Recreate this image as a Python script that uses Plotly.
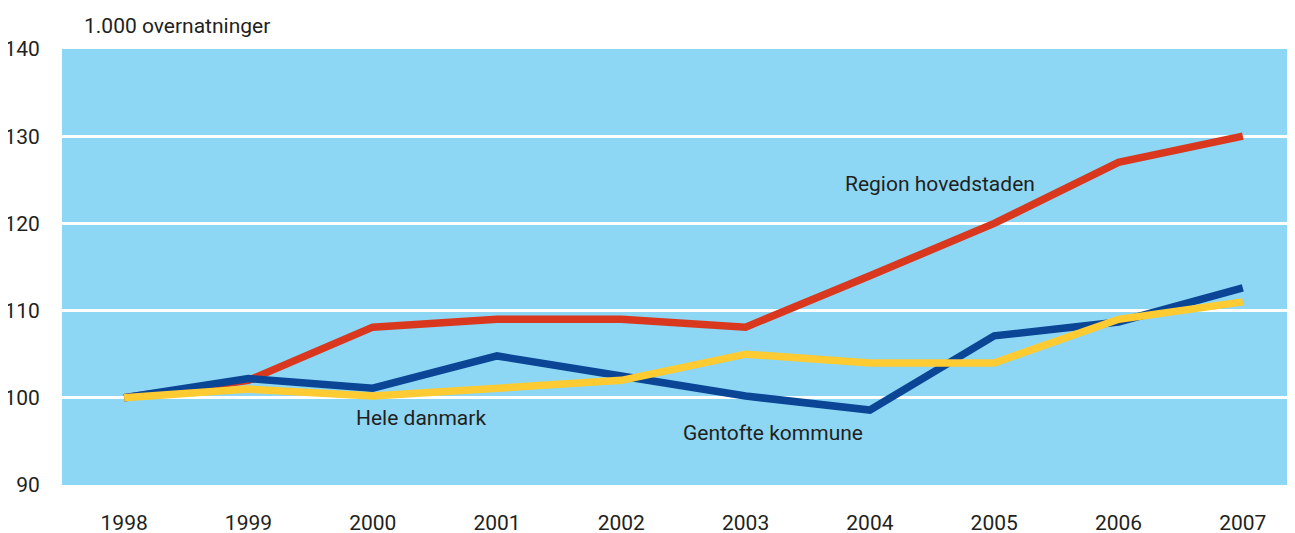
import plotly.graph_objects as go

years = [1998, 1999, 2000, 2001, 2002, 2003, 2004, 2005, 2006, 2007]
region_hovedstaden = [100, 102, 108.1, 109, 109, 108.1, 114, 120, 127, 130]
gentofte_kommune = [100, 102.2, 101.1, 104.8, 102.5, 100.2, 98.6, 107.1, 108.7, 112.6]
hele_danmark = [100, 101, 100.2, 101, 102, 105, 104, 104, 109, 111]

y_ticks = [90, 100, 110, 120, 130, 140]
y_title = "1.000 overnatninger"

FONT = "Roboto, Liberation Sans, sans-serif"
TXT = "#231f20"

# page body has an 8px margin: figure placed at (8, 8)
W, H = 1287, 525
L, T, B, R = 54, 41, 48, 0
PW, PH = W - L - R, H - T - B

fig = go.Figure()
series = [
    ("Region hovedstaden", region_hovedstaden, "#d9381e"),
    ("Gentofte kommune", gentofte_kommune, "#0a4596"),
    ("Hele danmark", hele_danmark, "#fecb32"),
]
for name, vals, col in series:
    fig.add_trace(go.Scatter(x=years, y=vals, mode="lines", name=name,
                             line=dict(color=col, width=7.5), showlegend=False))

annots = [
    dict(x=2004.56, y=124.5, text="Region hovedstaden"),
    dict(x=2000.39, y=97.7, text="Hele danmark"),
    dict(x=2003.22, y=96.0, text="Gentofte kommune"),
]
for a in annots:
    fig.add_annotation(x=a["x"], y=a["y"], text=a["text"], showarrow=False,
                       xref="x", yref="y", font=dict(family=FONT, size=21, color=TXT))

fig.add_annotation(x=20 / PW, y=1 + 23 / PH, xref="paper", yref="paper",
                   text=y_title, showarrow=False, xanchor="left", yanchor="middle",
                   font=dict(family=FONT, size=21, color=TXT))

fig.update_layout(
    width=W, height=H,
    margin=dict(l=L, r=R, t=T, b=B, autoexpand=False),
    paper_bgcolor="white",
    plot_bgcolor="#8dd7f5",
    font=dict(family=FONT, size=21, color=TXT),
)

fig.update_xaxes(range=[1997.5, 2007.42], tickmode="array", tickvals=years,
                 ticktext=[str(y) for y in years], showgrid=False, zeroline=False,
                 showline=False, ticks="outside", ticklen=19, tickcolor="rgba(0,0,0,0)",
                 automargin=False,
                 tickfont=dict(family=FONT, size=21, color=TXT))
fig.update_yaxes(range=[90, 140], tickmode="array", tickvals=y_ticks,
                 showgrid=True, gridcolor="white", gridwidth=3, zeroline=False,
                 showline=False, ticks="outside", ticklen=17, tickcolor="rgba(0,0,0,0)",
                 automargin=False,
                 tickfont=dict(family=FONT, size=21, color=TXT))

fig.write_html("out.html")
